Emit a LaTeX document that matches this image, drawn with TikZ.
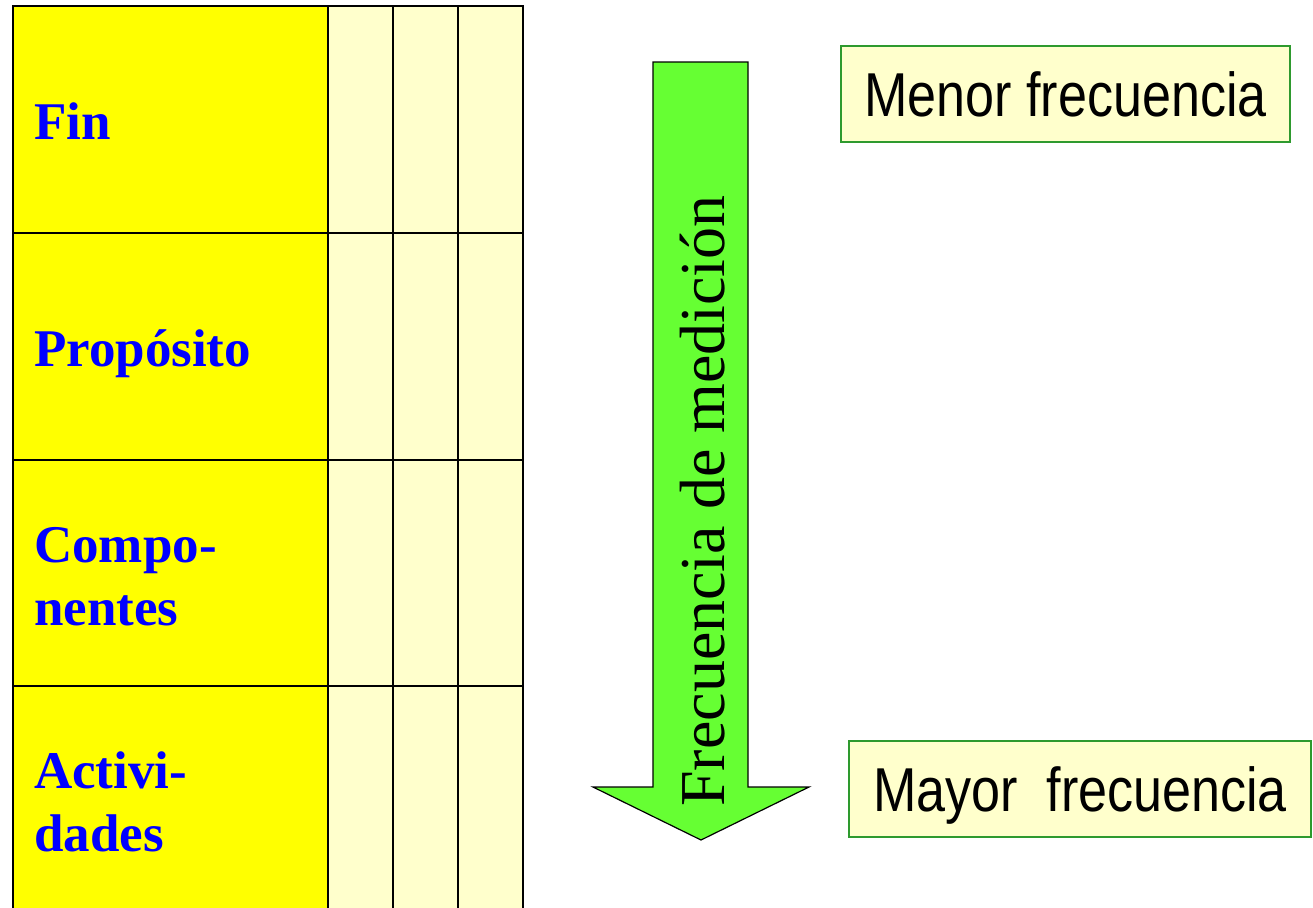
\documentclass[tikz,border=0pt]{standalone}
\usepackage{fontspec}
\setmainfont{Liberation Serif}
\newfontfamily\narrowsans[FakeStretch=0.84]{Liberation Sans}
\definecolor{labelyellow}{HTML}{FFFF00}
\definecolor{paleyellow}{HTML}{FFFFCC}
\definecolor{arrowgreen}{HTML}{66FF33}
\definecolor{boxgreen}{HTML}{2E9A2E}
\definecolor{labelblue}{HTML}{0000FF}
\tikzset{
  labelcell/.style={draw=black, fill=labelyellow, line width=1.5pt, anchor=north west, minimum width=315pt, inner sep=0pt, outer sep=0pt},
  palecell/.style={draw=black, fill=paleyellow, line width=1.5pt, anchor=north west, minimum width=65pt, inner sep=0pt, outer sep=0pt},
  rowlabel/.style={anchor=base west, inner sep=0pt, text=labelblue, font=\bfseries\fontsize{53}{62}\selectfont},
  freqbox/.style={draw=boxgreen, fill=paleyellow, line width=1.5pt, inner sep=0pt, text height=45pt, text depth=0pt, font=\narrowsans\fontsize{62}{70}\selectfont},
  bigarrow/.style={draw=black, fill=arrowgreen, line width=1.2pt, line join=miter},
  arrowtext/.style={rotate=90, anchor=base, inner sep=0pt, font=\fontsize{64}{70}\selectfont}
}
\begin{document}
\begin{tikzpicture}[x=1pt, y=-1pt]
\useasboundingbox (0,0) rectangle (1313,907);
\fill[white] (0,0) rectangle (1313,907);
% table rows
\node[labelcell, minimum height=227pt] (finc) at (13,6) {};
\node[labelcell, minimum height=227pt] (propc) at (13,233) {};
\node[labelcell, minimum height=226pt] (compc) at (13,460) {};
\node[labelcell, minimum height=240pt] (actc) at (13,686) {};
\foreach \r/\y/\h in {1/6/227, 2/233/227, 3/460/226, 4/686/240}{
  \foreach \c/\x in {1/328, 2/393, 3/458}{
    \node[palecell, minimum height=\h pt] (p\r\c) at (\x,\y) {};
  }
}
% row labels
\node[rowlabel] (fin) at (34,139) {Fin};
\node[rowlabel] (prop) at (34,366.5) {Propósito};
\node[rowlabel] (compa) at (34,562) {Compo-};
\node[rowlabel] (compb) at (34,625) {nentes};
\node[rowlabel] (acta) at (34,788) {Activi-};
\node[rowlabel] (actb) at (34,851) {dades};
% arrow
\draw[bigarrow] (653,62) -- (748,62) -- (748,787) -- (809,787) -- (701,840) -- (593,787) -- (653,787) -- cycle;
\node[arrowtext] (freq) at (724,501) {Frecuencia de medición};
% boxes
\node[freqbox, minimum width=449pt, minimum height=96pt] (menor) at (1065.5,94) {Menor frecuencia};
\node[freqbox, minimum width=462pt, minimum height=96pt] (mayor) at (1080,789) {Mayor\ \ frecuencia};
\end{tikzpicture}
\end{document}
